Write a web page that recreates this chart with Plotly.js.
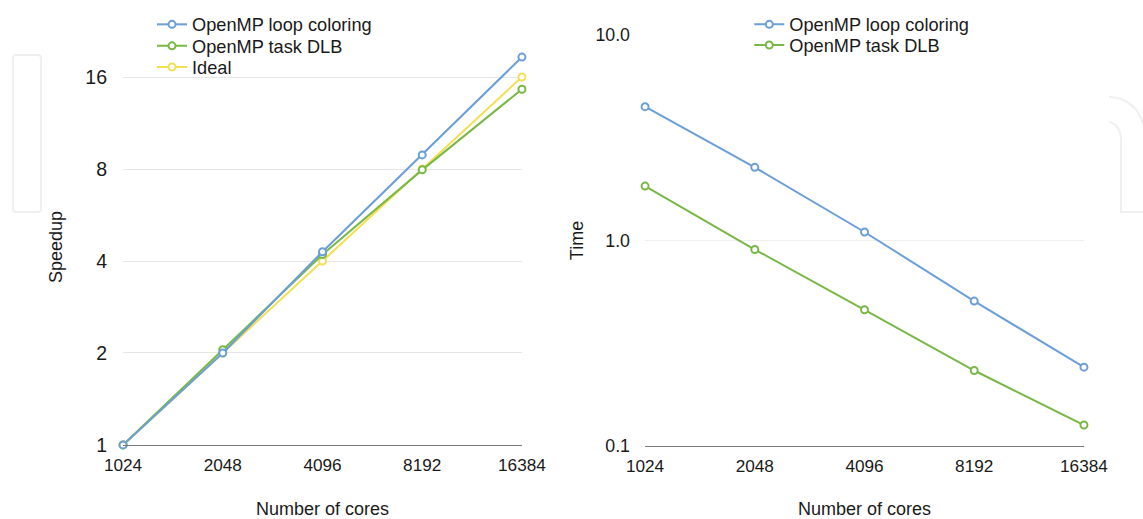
<!DOCTYPE html>
<html>
<head>
<meta charset="utf-8">
<script src="https://cdn.plot.ly/plotly-3.0.1.min.js"></script>
<style>html,body{margin:0;padding:0;background:#fff;}#chart{width:1143px;height:519px;}</style>
</head>
<body>
<div id="chart"></div>
<script>
// ---- data ----
const cores = [1024, 2048, 4096, 8192, 16384];
const coreLabels = ['1024', '2048', '4096', '8192', '16384'];
const speedupLoop = [1.0, 2.0, 4.29, 8.9, 18.6];
const speedupTask = [1.0, 2.05, 4.2, 7.95, 14.6];
const speedupIdeal = [1, 2, 4, 8, 16];
const speedupTicks = [1, 2, 4, 8, 16];
const speedupTickLabels = ['1', '2', '4', '8', '16'];
const timeLoop = [4.48, 2.27, 1.10, 0.507, 0.242];
const timeTask = [1.84, 0.904, 0.460, 0.233, 0.1265];
const timeTicks = [0.1, 1, 10];
const timeTickLabels = ['0.1', '1.0', '10.0'];
const seriesNames = ['OpenMP loop coloring', 'OpenMP task DLB', 'Ideal'];

const BLUE = '#6b9fd6', GREEN = '#79b847', YELLOW = '#f3df55';
const W = 1143, H = 519;
const FONT = 'Liberation Sans, Arial, Helvetica, sans-serif';
const TXT = '#1a1a1a';
const EPS = 2e-4;

function tr(x, y, name, color, xa, ya, leg) {
  return {
    x: x, y: y, name: name, type: 'scatter', mode: 'lines+markers',
    xaxis: xa, yaxis: ya, legend: leg, cliponaxis: false,
    line: {color: color, width: 2},
    marker: {symbol: 'circle', size: 7, color: '#ffffff', line: {color: color, width: 2}}
  };
}

const data = [
  tr(cores, speedupIdeal, seriesNames[2], YELLOW, 'x', 'y', 'legend3'),
  tr(cores, speedupTask, seriesNames[1], GREEN, 'x', 'y', 'legend2'),
  tr(cores, speedupLoop, seriesNames[0], BLUE, 'x', 'y', 'legend'),
  tr(cores, timeLoop, seriesNames[0], BLUE, 'x2', 'y2', 'legend4'),
  tr(cores, timeTask, seriesNames[1], GREEN, 'x2', 'y2', 'legend5')
];

function px(x) { return x / W; }
function py(y) { return 1 - y / H; }

const xCommon = {
  type: 'log', tickmode: 'array', tickvals: cores, ticktext: coreLabels,
  showgrid: false, zeroline: false, showline: true, linecolor: '#7a7a7a', linewidth: 1,
  ticks: '', tickfont: {family: FONT, size: 17.2, color: TXT},
  ticklabelstandoff: 4,
  range: [Math.log10(1024) - EPS, Math.log10(16384) + EPS], fixedrange: true, automargin: false
};

function leg(xc, yc) {
  return {
    x: px(xc - 20), y: py(yc - 19), xanchor: 'left', yanchor: 'top',
    bgcolor: 'rgba(0,0,0,0)', borderwidth: 0,
    font: {family: FONT, size: 18.2, color: TXT}, itemclick: false
  };
}

const layout = {
  width: W, height: H,
  margin: {l: 0, r: 0, t: 0, b: 0},
  paper_bgcolor: '#ffffff', plot_bgcolor: 'rgba(0,0,0,0)',
  font: {family: FONT, color: TXT},
  showlegend: true,
  xaxis: Object.assign({}, xCommon, {
    domain: [px(123), px(522)], anchor: 'y',
    title: {text: 'Number of cores', font: {family: FONT, size: 18, color: TXT}, standoff: 30}
  }),
  yaxis: {
    type: 'log', domain: [py(445), py(49)], anchor: 'x',
    range: [-EPS, 1.296], tickmode: 'array', tickvals: speedupTicks, ticktext: speedupTickLabels,
    showgrid: true, gridcolor: '#e6e6e6', gridwidth: 1, zeroline: false, showline: false,
    ticks: '', tickfont: {family: FONT, size: 19.5, color: TXT}, ticklabelstandoff: 15,
    fixedrange: true, automargin: false,
    title: {text: 'Speedup', font: {family: FONT, size: 18, color: TXT}, standoff: 17}
  },
  xaxis2: Object.assign({}, xCommon, {
    domain: [px(645), px(1084)], anchor: 'y2',
    title: {text: 'Number of cores', font: {family: FONT, size: 18, color: TXT}, standoff: 30}
  }),
  yaxis2: {
    type: 'log', domain: [py(446), py(35)], anchor: 'x2',
    range: [-1, 1], tickmode: 'array', tickvals: timeTicks, ticktext: timeTickLabels,
    showgrid: true, gridcolor: '#efefef', gridwidth: 1, zeroline: false, showline: false,
    ticks: '', tickfont: {family: FONT, size: 17.8, color: TXT}, ticklabelstandoff: 14,
    fixedrange: true, automargin: false,
    title: {text: 'Time', font: {family: FONT, size: 18, color: TXT}, standoff: 7}
  },
  legend: leg(172, 25),
  legend2: leg(172, 46.5),
  legend3: leg(172, 67.7),
  legend4: leg(769.3, 25),
  legend5: leg(769.3, 45.7),
  shapes: [
    // faint background watermark outlines
    {type: 'path', xref: 'paper', yref: 'paper', layer: 'below',
     path: 'M' + px(16) + ',' + py(55) + ' L' + px(38) + ',' + py(55) +
           ' Q' + px(41) + ',' + py(55) + ' ' + px(41) + ',' + py(58) +
           ' L' + px(41) + ',' + py(209) + ' Q' + px(41) + ',' + py(212) + ' ' + px(38) + ',' + py(212) +
           ' L' + px(16) + ',' + py(212) + ' Q' + px(13) + ',' + py(212) + ' ' + px(13) + ',' + py(209) +
           ' L' + px(13) + ',' + py(58) + ' Q' + px(13) + ',' + py(55) + ' ' + px(16) + ',' + py(55) + ' Z',
     line: {color: '#f0f0f0', width: 2}},
    {type: 'path', xref: 'paper', yref: 'paper', layer: 'below',
     path: 'M' + px(1109) + ',' + py(97) + ' C' + px(1125) + ',' + py(97) + ' ' + px(1140) + ',' + py(108) + ' ' + px(1143) + ',' + py(125),
     line: {color: '#f0f0f0', width: 2}},
    {type: 'path', xref: 'paper', yref: 'paper', layer: 'below',
     path: 'M' + px(1109) + ',' + py(122) + ' C' + px(1116) + ',' + py(123) + ' ' + px(1121) + ',' + py(130) + ' ' + px(1121) + ',' + py(140) +
           ' L' + px(1121) + ',' + py(212) + ' L' + px(1143) + ',' + py(212),
     line: {color: '#f0f0f0', width: 2}}
  ]
};

Plotly.newPlot('chart', data, layout, {staticPlot: true, displayModeBar: false});
</script>
</body>
</html>
